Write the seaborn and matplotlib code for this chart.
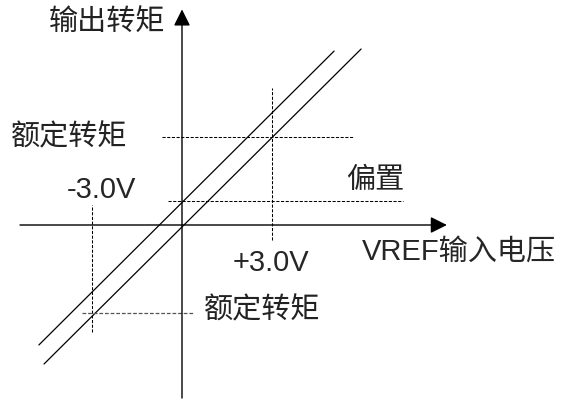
import numpy as np
import matplotlib
matplotlib.use("Agg")
import matplotlib.pyplot as plt
import seaborn as sns

# characteristic lines: VREF input voltage (V) vs output torque (rated = 3.0)
line_offset_vref = [-4.77, 5.07]
line_offset_torque = [-4.09, 5.93]
line_zero_vref = [-4.6, 5.97]
line_zero_torque = [-4.74, 6.0]

rated_vref = 3.0
rated_torque = 3.0
offset_torque = 0.82

# guide segments (dashed)
upper_rated_h = [-0.67, 5.7]      # x-range at torque = +rated
upper_rated_v = [-0.51, 4.67]     # y-range at vref = +3.0
offset_h = [-0.47, 7.37]          # x-range at torque = offset
lower_rated_v = [-3.65, 0.68]     # y-range at vref = -3.0
lower_rated_h = [-3.33, 0.37]     # x-range at torque = -rated

# axis extents
x_axis = [-5.4, 8.83]
y_axis = [-5.9, 7.35]

labels = {
    "y_title": "输出转矩",
    "x_title": "VREF输入电压",
    "rated": "额定转矩",
    "offset": "偏置",
    "neg_v": "-3.0V",
    "pos_v": "+3.0V",
}

sns.set_style("white")
plt.rcParams["font.family"] = ["Liberation Sans", "Noto Sans CJK SC", "DejaVu Sans"]

fig = plt.figure(figsize=(5.65, 4.0), dpi=100)
ax = fig.add_axes([0, 0, 1, 1])
ax.set_xlim(-182 / 30, 383 / 30)
ax.set_ylim(-175 / 29.33, 225 / 29.33)
ax.axis("off")

# axes with arrows
arrow = dict(arrowstyle="-|>,head_length=0.5,head_width=0.25", color="black",
             lw=1.0, mutation_scale=20, shrinkA=0, shrinkB=0)
ax.annotate("", xy=(x_axis[1], 0), xytext=(x_axis[0], 0), arrowprops=arrow)
ax.annotate("", xy=(0, y_axis[1]), xytext=(0, y_axis[0]), arrowprops=arrow)

# two parallel characteristic lines
sns.lineplot(x=line_offset_vref, y=line_offset_torque, ax=ax, color="black", lw=0.9)
sns.lineplot(x=line_zero_vref, y=line_zero_torque, ax=ax, color="black", lw=0.9)

# dashed guides
dash = dict(colors="black", linewidth=0.75, linestyles=(0, (3, 1.5)))
ax.hlines(rated_torque, *upper_rated_h, **dash)
ax.vlines(rated_vref, *upper_rated_v, **dash)
ax.hlines(offset_torque, *offset_h, **dash)
ax.vlines(-rated_vref, *lower_rated_v, **dash)
ax.hlines(-rated_torque, *lower_rated_h, colors="#555555", linewidth=0.9,
          linestyles=(0, (3, 1.5)))

fs = 21
cjk = dict(fontsize=fs, va="center", fontweight="light", color="#222222")
lat = dict(fontsize=fs, va="center")
ax.text(-2.5, 6.9, labels["y_title"], ha="center", **cjk)
ax.text(-1.83, 3.0, labels["rated"], ha="right", **cjk)
ax.text(-2.67, 1.19, labels["neg_v"], ha="center", **lat)
ax.text(6.43, 1.53, labels["offset"], ha="center", **cjk)
ax.text(2.97, -1.30, labels["pos_v"], ha="center", **lat)
ax.text(6.0, -0.92, labels["x_title"], ha="left", **lat)
ax.text(0.73, -2.90, labels["rated"], ha="left", **cjk)

fig.savefig("out.png", dpi=100)
